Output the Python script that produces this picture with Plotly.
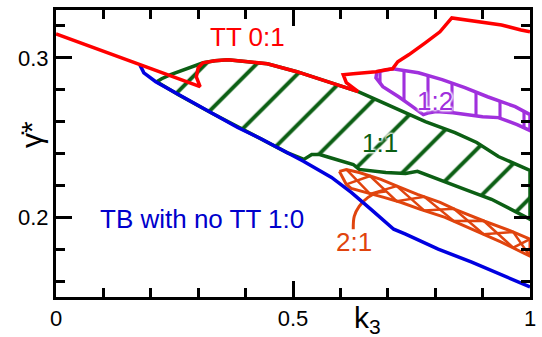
import plotly.graph_objects as go

# ---- data (k3, gamma_dot*) ----
RED_X = [0, 0.154, 0.304, 0.296, 0.300, 0.310, 0.335, 0.3625, 0.404, 0.446, 0.508, 0.571, 0.6375,
         0.6125, 0.606, 0.627, 0.675, 0.696, 0.710, 0.721, 0.744, 0.779, 0.810, 0.835, 0.898, 0.940, 0.981, 1.0]
RED_Y = [0.315, 0.2981, 0.2819, 0.2881, 0.2938, 0.2969, 0.2981, 0.2988, 0.2975, 0.2963, 0.2913, 0.285, 0.2788,
         0.2844, 0.2894, 0.29, 0.2913, 0.2925, 0.2931, 0.2975, 0.3019, 0.3094, 0.3163, 0.325, 0.3225, 0.3206, 0.3175, 0.3163]

BLUE_X = [0.177, 0.1854, 0.2104, 0.2583, 0.3271, 0.3833, 0.4313, 0.4875, 0.5229, 0.5813, 0.6229, 0.6646,
          0.7125, 0.7375, 0.8063, 0.8771, 0.9604, 1.0]
BLUE_Y = [0.2956, 0.2906, 0.285, 0.2769, 0.2656, 0.2563, 0.2494, 0.2406, 0.235, 0.225, 0.2156, 0.205,
          0.1925, 0.1894, 0.18, 0.1719, 0.1613, 0.1563]

GREEN_X = [0.2125, 0.2229, 0.2417, 0.2583, 0.2792, 0.2938, 0.3104, 0.3354, 0.3625, 0.4042, 0.4458, 0.5083,
           0.5708, 0.6375, 0.6896, 0.7375, 0.7792, 0.8417, 0.8875, 0.9333, 1.0, 1.0, 0.9667, 0.9188, 0.8625,
           0.8063, 0.7625, 0.7375, 0.6958, 0.6396, 0.6271, 0.5771, 0.5563, 0.5396, 0.5229, 0.4875, 0.4313,
           0.3833, 0.3271, 0.2583, 0.2125]
GREEN_Y = [0.285, 0.2869, 0.2894, 0.2913, 0.2938, 0.295, 0.2969, 0.2981, 0.2988, 0.2975, 0.2963, 0.2913,
           0.285, 0.2788, 0.2719, 0.2656, 0.26, 0.2531, 0.2469, 0.2381, 0.2294, 0.1988, 0.2038, 0.2113, 0.2175,
           0.2238, 0.2288, 0.2275, 0.2281, 0.23, 0.2331, 0.2375, 0.2394, 0.2394, 0.2363, 0.2406, 0.2494,
           0.2563, 0.2656, 0.2769, 0.285]

PURPLE_X = [0.6771, 0.6958, 0.7104, 0.7646, 0.8146, 0.8625, 0.9104, 0.9688, 1.0, 1.0, 0.9729, 0.9333,
            0.9, 0.8375, 0.8021, 0.7875, 0.775, 0.7521, 0.7229, 0.6896, 0.675, 0.6771]
PURPLE_Y = [0.2913, 0.2925, 0.2931, 0.2906, 0.2863, 0.2813, 0.2756, 0.2694, 0.2644, 0.2544, 0.2581, 0.2625,
            0.2631, 0.2656, 0.2663, 0.2656, 0.2644, 0.2694, 0.2756, 0.2819, 0.2875, 0.2913]

ORANGE_X = [0.5979, 0.6125, 0.6396, 0.6854, 0.7208, 0.7625, 0.8104, 0.8417, 0.9042, 0.9604, 1.0, 1.0,
            0.9396, 0.8688, 0.8208, 0.7688, 0.7271, 0.6917, 0.65, 0.6229, 0.6125, 0.5979]
ORANGE_Y = [0.2288, 0.23, 0.2281, 0.2238, 0.2194, 0.2144, 0.2094, 0.205, 0.1975, 0.1913, 0.1863, 0.1756,
            0.1844, 0.1938, 0.2, 0.205, 0.2094, 0.2125, 0.2156, 0.2181, 0.2206, 0.2288]

ZIG_A_X = [0.6125, 0.6625, 0.7188, 0.7771, 0.8396, 0.9021, 0.9646, 1.0]
ZIG_A_Y = [0.23, 0.2147, 0.2196, 0.2042, 0.2053, 0.1894, 0.1908, 0.1756]
ZIG_B_X = [0.6125, 0.6625, 0.7188, 0.7771, 0.8396, 0.9021, 0.9646, 1.0]
ZIG_B_Y = [0.2206, 0.2259, 0.2101, 0.2129, 0.1976, 0.1978, 0.1809, 0.1863]

LEADER_X = [0.6271, 0.6292, 0.6396, 0.6583, 0.6792, 0.6958]
LEADER_Y = [0.1925, 0.2006, 0.2069, 0.2125, 0.2156, 0.2163]

LABELS = ["TT 0:1", "1:2", "1:1", "2:1", "TB with no TT 1:0"]
LABEL_X = [0.404, 0.80, 0.683, 0.629, 0.307]
LABEL_Y = [0.3131, 0.2731, 0.2463, 0.1844, 0.1988]

X_TICKS = [0, 0.5, 1]
X_TICK_TEXT = ["0", "0.5", "1"]
Y_TICKS = [0.2, 0.3]
Y_TICK_TEXT = ["0.2", "0.3"]

RED = "#ff0000"
BLUE = "#0000e0"
GREEN = "#0c5f14"
PURPLE = "#a030dd"
ORANGE = "#e0440e"
LABEL_COLORS = [RED, PURPLE, GREEN, ORANGE, "#0000cc"]

FONT = "Liberation Sans, Arial, sans-serif"
LW = 3.5
HALO = "0 0 3px white, 0 0 3px white, 0 0 3px white, 0 0 3px white, 0 0 3px white"

fig = go.Figure()

# 1:1 region (hatched /)
fig.add_trace(go.Scatter(
    x=GREEN_X, y=GREEN_Y, mode="lines", fill="toself",
    fillcolor="rgba(0,0,0,0)",
    fillpattern=dict(shape="/", size=36, solidity=0.11, fgcolor=GREEN, fgopacity=1,
                     bgcolor="rgba(0,0,0,0)"),
    line=dict(color=GREEN, width=LW), hoverinfo="skip", showlegend=False))

# 1:2 region (hatched |)
fig.add_trace(go.Scatter(
    x=PURPLE_X, y=PURPLE_Y, mode="lines", fill="toself",
    fillcolor="rgba(0,0,0,0)",
    fillpattern=dict(shape="|", size=24, solidity=0.13, fgcolor=PURPLE, fgopacity=1,
                     bgcolor="rgba(0,0,0,0)"),
    line=dict(color=PURPLE, width=LW), hoverinfo="skip", showlegend=False))

# 2:1 band
fig.add_trace(go.Scatter(x=ORANGE_X, y=ORANGE_Y, mode="lines",
                         line=dict(color=ORANGE, width=3), hoverinfo="skip", showlegend=False))
fig.add_trace(go.Scatter(x=ZIG_A_X, y=ZIG_A_Y, mode="lines",
                         line=dict(color=ORANGE, width=2.5), hoverinfo="skip", showlegend=False))
fig.add_trace(go.Scatter(x=ZIG_B_X, y=ZIG_B_Y, mode="lines",
                         line=dict(color=ORANGE, width=2.5), hoverinfo="skip", showlegend=False))
fig.add_trace(go.Scatter(x=LEADER_X, y=LEADER_Y, mode="lines", line_shape="spline",
                         line=dict(color=ORANGE, width=3), hoverinfo="skip", showlegend=False))

# TB boundary (blue)
fig.add_trace(go.Scatter(x=BLUE_X, y=BLUE_Y, mode="lines",
                         line=dict(color=BLUE, width=LW), hoverinfo="skip", showlegend=False))
# TT boundary (red)
fig.add_trace(go.Scatter(x=RED_X, y=RED_Y, mode="lines",
                         line=dict(color=RED, width=LW), hoverinfo="skip", showlegend=False))

for t, lx, ly, c in zip(LABELS, LABEL_X, LABEL_Y, LABEL_COLORS):
    fig.add_annotation(x=lx, y=ly, text=t, showarrow=False,
                       font=dict(family=FONT, size=26, color=c, shadow=HALO),
                       xanchor="center", yanchor="middle")

# axis titles
fig.add_annotation(x=0.658, y=-0.078, xref="x", yref="paper", text="k<sub>3</sub>",
                   showarrow=False, font=dict(family=FONT, size=30, color="black"),
                   xanchor="center", yanchor="middle")
fig.add_annotation(x=-0.052, y=0.566, xref="paper", yref="paper", text="γ̇*",
                   showarrow=False, textangle=-90, font=dict(family=FONT, size=30, color="black"),
                   xanchor="center", yanchor="middle")

axis_common = dict(showline=True, linecolor="black", linewidth=3, mirror="ticks",
                   ticks="inside", ticklen=16, tickwidth=3, tickcolor="black",
                   showgrid=False, zeroline=False,
                   tickfont=dict(family=FONT, size=22, color="black"))

fig.update_xaxes(range=[0, 1], tickvals=X_TICKS, ticktext=X_TICK_TEXT,
                 minor=dict(ticks="inside", dtick=0.1, tick0=0, ticklen=9, tickwidth=3,
                            tickcolor="black", showgrid=False),
                 **axis_common)
fig.update_yaxes(range=[0.15, 0.33], tickvals=Y_TICKS, ticktext=Y_TICK_TEXT,
                 minor=dict(ticks="inside", dtick=0.02, tick0=0, ticklen=9, tickwidth=3,
                            tickcolor="black", showgrid=False),
                 **axis_common)

fig.update_layout(width=542, height=337, margin=dict(l=56, r=6, t=10, b=39),
                  plot_bgcolor="white", paper_bgcolor="white", showlegend=False)

fig.write_html("out.html")
